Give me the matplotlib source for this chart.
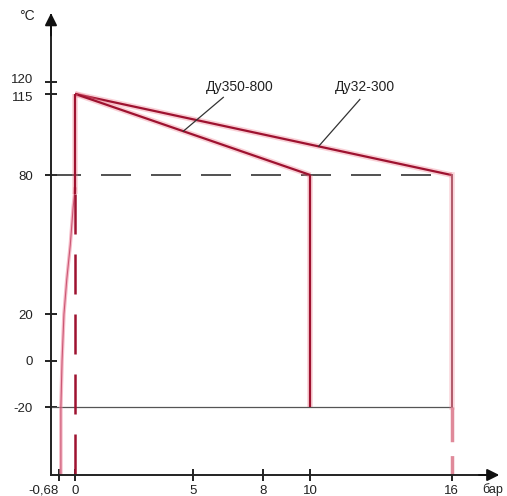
import matplotlib
matplotlib.use("Agg")
import matplotlib.pyplot as plt
from matplotlib.transforms import ScaledTranslation

plt.rcParams['font.family'] = ['Liberation Sans', 'DejaVu Sans']

# ---- data ----
xticks = [-0.68, 0, 5, 8, 10, 16]
xticklabels = ['-0,68', '0', '5', '8', '10', '16']
yticks = [-20, 0, 20, 80, 115, 120]
yticklabels = ['-20', '0', '20', '80', '115', '120']

line_small_p = [0, 16]        # Ду32-300
line_small_t = [115, 80]
line_large_p = [0, 10]        # Ду350-800
line_large_t = [115, 80]

vline0_top = [115, 72]
vline0_bottom = [72, -50]
vline10 = [80, -20]
vline16 = [80, -20]
vline16_bottom = [-20, -50]

curve_p = [0, -0.08, -0.2, -0.35, -0.47, -0.55, -0.6, -0.6]
curve_t = [74, 66, 50, 35, 20, 0, -20, -50]

label_large = 'Ду350-800'
label_small = 'Ду32-300'
label_large_xy = (7.0, 118)
label_small_xy = (12.3, 118)
leader_large = ([6.3, 4.6], [113.5, 98.9])
leader_small = ([12.1, 10.35], [112.6, 92.4])

xmin, xmax = -1.02, 17.84
ymin, ymax = -49.3, 149

W, H = 507, 496
fig = plt.figure(figsize=(W / 100, H / 100), dpi=100)
ax = fig.add_axes([51 / W, (H - 475) / H, (495 - 51) / W, (475 - 15) / H])
ax.set_xlim(xmin, xmax)
ax.set_ylim(ymin, ymax)
for s in ['top', 'right']:
    ax.spines[s].set_visible(False)
for s in ['left', 'bottom']:
    ax.spines[s].set_linewidth(1.4)
    ax.spines[s].set_color('#222222')

dark = '#9e1230'
halo = '#f07a8c'

def redline(x, y, **kw):
    ax.plot(x, y, color=halo, lw=4.0, alpha=0.35, solid_capstyle='butt', **kw)
    ax.plot(x, y, color=dark, lw=1.6, solid_capstyle='butt', **kw)

# dashed reference lines
ax.plot([xmin, 16], [80, 80], color='#333333', lw=1.2, dashes=(18, 12))
ax.plot([xmin, 16], [-20, -20], color='#555555', lw=0.9)

# pink curve
ax.plot(curve_p, curve_t, color='#f08aa0', lw=2.5, alpha=0.6)
ax.plot(curve_p, curve_t, color='#c04060', lw=0.8, alpha=0.8)

# main lines
redline(line_small_p, line_small_t)
redline(line_large_p, line_large_t)
redline([0, 0], vline0_top)
ax.plot([0, 0], vline0_bottom, color=dark, lw=1.8, dashes=(16, 8))
redline([10, 10], vline10)
ax.plot([16, 16], vline16, color=halo, lw=4, alpha=0.3)
ax.plot([16, 16], vline16, color='#b05a6a', lw=1.4)
ax.plot([16, 16], vline16_bottom, color='#e08a9a', lw=2.5, dashes=(10, 4))

# labels & leaders
ax.text(*label_large_xy, label_large, ha='center', va='center', fontsize=10, color='#222222')
ax.text(*label_small_xy, label_small, ha='center', va='center', fontsize=10, color='#222222')
ax.plot(*leader_large, color='#333333', lw=0.9)
ax.plot(*leader_small, color='#333333', lw=0.9)

# ticks
ax.set_xticks(xticks)
ax.set_xticklabels(xticklabels, fontsize=9.5, color='#222222')
ax.set_yticks(yticks)
ax.set_yticklabels(yticklabels, fontsize=9.5, color='#222222')
ax.tick_params(axis='both', direction='inout', length=8, width=1.4, color='#222222')
ax.tick_params(axis='y', pad=9)
ax.tick_params(axis='x', pad=3)
ax.get_xticklabels()[0].set_horizontalalignment('right')
ylbls = ax.get_yticklabels()
ylbls[-1].set_transform(ylbls[-1].get_transform() + ScaledTranslation(0, 3 / 72, fig.dpi_scale_trans))
ylbls[-2].set_transform(ylbls[-2].get_transform() + ScaledTranslation(0, -2 / 72, fig.dpi_scale_trans))

# arrows
ax.annotate('', xy=(xmin, ymax + 2), xytext=(xmin, ymax - 10),
            arrowprops=dict(arrowstyle='-|>', color='#111111', lw=1.4, mutation_scale=18),
            annotation_clip=False)
ax.annotate('', xy=(xmax + 0.3, ymin), xytext=(xmax - 0.8, ymin),
            arrowprops=dict(arrowstyle='-|>', color='#111111', lw=1.4, mutation_scale=18),
            annotation_clip=False)

fig.text(27 / W, 1 - 16 / H, '°C', ha='center', va='center', fontsize=10, color='#222222')
fig.text(503 / W, 1 - 490 / H, 'бар', ha='right', va='center', fontsize=9, color='#222222')

fig.savefig('out.png', dpi=100)
